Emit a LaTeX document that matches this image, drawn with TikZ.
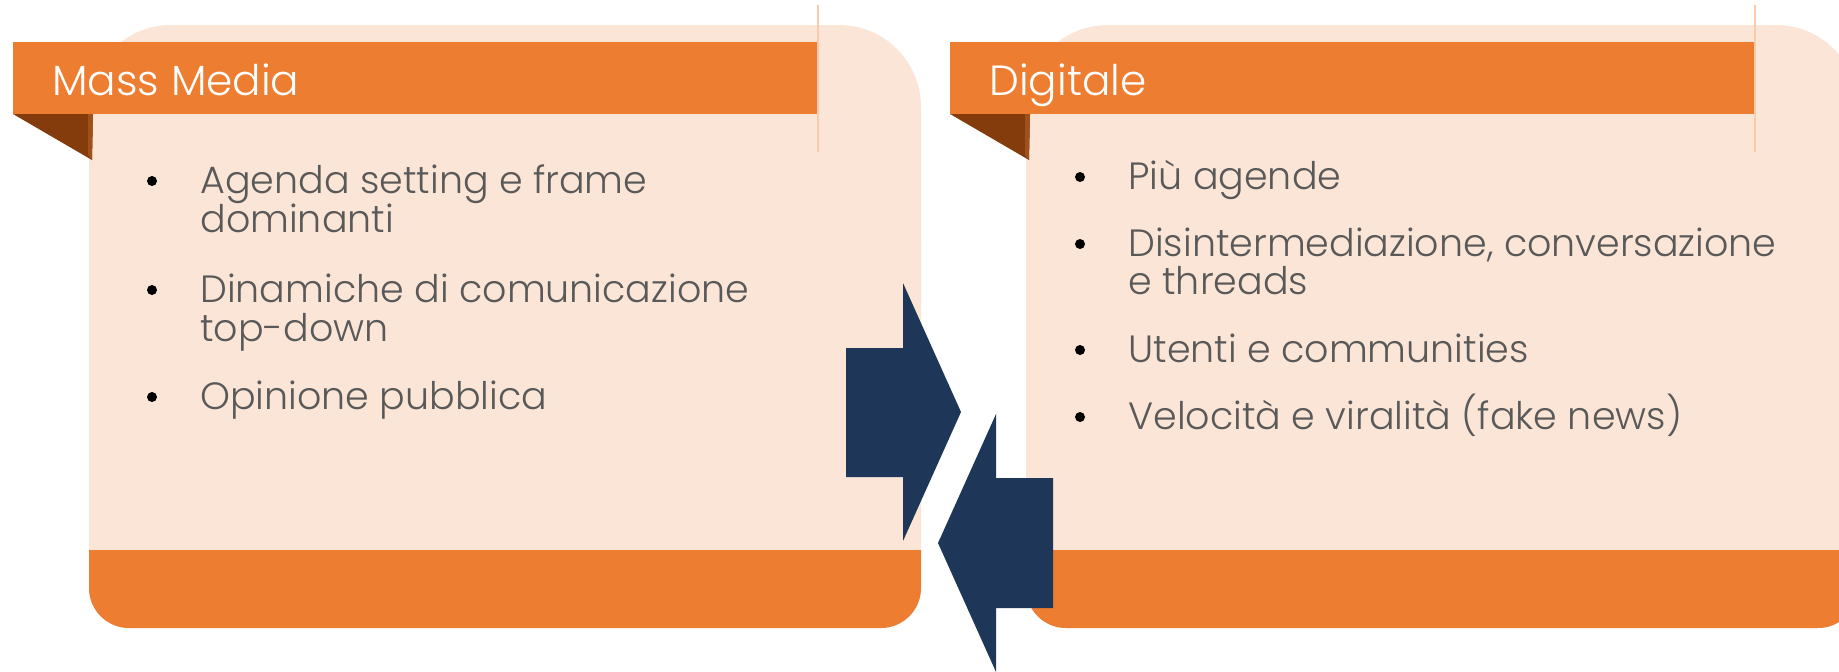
\documentclass[tikz,border=0pt]{standalone}
\usepackage{fontspec}
\IfFontExistsTF{Poppins Light}{\setmainfont{Poppins Light}}{\setmainfont{Poppins}}
\definecolor{panelbg}{HTML}{FBE5D6}
\definecolor{orangeband}{HTML}{ED7D31}
\definecolor{flapbrown}{HTML}{843C0C}
\definecolor{flapedge}{HTML}{A0501A}
\definecolor{navy}{HTML}{1E3758}
\definecolor{bodygrey}{HTML}{595959}
\definecolor{paleline}{HTML}{F8CBAD}
\tikzset{
  hdtext/.style={anchor=base west, inner sep=0pt, text=white, font=\fontsize{21.1}{25}\selectfont},
  bodytext/.style={anchor=base west, inner sep=0pt, text=bodygrey, font=\fontsize{19}{22}\selectfont},
  bul/.style={circle, fill=black, inner sep=0pt, minimum size=5pt},
}
\begin{document}
\begin{tikzpicture}[x=0.5pt,y=-0.5pt]
\useasboundingbox (0,0) rectangle (1839,671);
\clip (0,0) rectangle (1839,671);
\foreach \dx in {0,937}{
  \begin{scope}[xshift=\dx*0.5pt]
    \fill[panelbg, rounded corners=41pt] (89,25) rectangle (921,420);
    \fill[panelbg, rounded corners=20pt] (89,200) rectangle (921,628);
    \begin{scope}
      \clip (0,550) rectangle (1000,671);
      \fill[orangeband, rounded corners=20pt] (89,300) rectangle (921,628);
    \end{scope}
    \draw[paleline, line width=0.6pt] (818,5) -- (818,152);
    \fill[orangeband] (13,42) rectangle (817,114);
    \fill[flapbrown] (13,114) -- (93,114) -- (92,160) -- cycle;
    \fill[flapedge] (88,114) -- (93,114) -- (92,160) -- (88,155) -- cycle;
  \end{scope}
}
\node[hdtext] (h1) at (52,95) {Mass Media};
\node[hdtext] (h2) at (989,95) {Digitale};
\node[bul] (b1) at (152,181) {};
\node[bodytext] (l1) at (200,193) {Agenda setting e frame};
\node[bodytext] (l1b) at (200,232) {dominanti};
\node[bul] (b2) at (152,290) {};
\node[bodytext] (l2) at (200,302) {Dinamiche di comunicazione};
\node[bodytext] (l2b) at (200,341) {top-down};
\node[bul] (b3) at (152,397) {};
\node[bodytext] (l3) at (200,409) {Opinione pubblica};
\node[bul] (r1b) at (1080,177) {};
\node[bodytext] (r1) at (1128,189) {Più agende};
\node[bul] (r2b) at (1080,244) {};
\node[bodytext] (r2) at (1128,256) {Disintermediazione, conversazione};
\node[bodytext] (r2c) at (1128,294) {e threads};
\node[bul] (r3b) at (1080,350) {};
\node[bodytext] (r3) at (1128,362) {Utenti e communities};
\node[bul] (r4b) at (1080,417) {};
\node[bodytext] (r4) at (1128,429) {Velocità e viralità (fake news)};
\fill[navy] (846,348) -- (903,348) -- (903,283) -- (961,412) -- (903,541) -- (903,477) -- (846,477) -- cycle;
\fill[navy] (1053,478) -- (996,478) -- (996,414) -- (938,543) -- (996,672) -- (996,608) -- (1053,608) -- cycle;
\end{tikzpicture}
\end{document}
